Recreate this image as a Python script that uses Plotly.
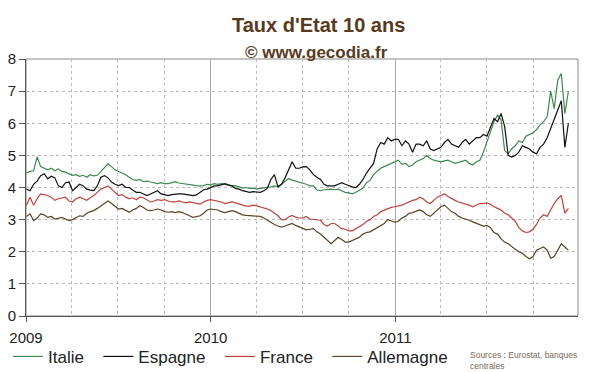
import pandas as pd
import plotly.graph_objects as go

start_date = "2009-01-02"

italie = [4.45, 4.5, 4.52, 4.95, 4.65, 4.6, 4.55, 4.6, 4.52, 4.58,
          4.5, 4.48, 4.42, 4.38, 4.4, 4.35, 4.38, 4.32, 4.4, 4.36,
          4.38, 4.5, 4.62, 4.74, 4.65, 4.55, 4.5, 4.45, 4.4, 4.32,
          4.25, 4.22, 4.25, 4.18, 4.2, 4.17, 4.14, 4.12, 4.15, 4.12,
          4.12, 4.15, 4.18, 4.14, 4.12, 4.12, 4.1, 4.08, 4.06, 4.05,
          4.06, 4.1, 4.08, 4.12, 4.1, 4.12, 4.1, 4.08, 4.05, 4.06,
          4.02, 3.98, 4.0, 3.97, 3.98, 3.95, 3.97, 3.98, 4.0, 4.02,
          4.05, 4.02, 4.1, 4.2, 4.28, 4.23, 4.2, 4.15, 4.12, 4.1,
          4.05, 4.05, 3.92, 3.9, 3.93, 3.95, 3.95, 3.93, 3.95, 3.9,
          3.85, 3.83, 3.8, 3.85, 3.92, 3.98, 4.15, 4.22, 4.4, 4.5,
          4.6, 4.65, 4.7, 4.75, 4.8, 4.85, 4.72, 4.75, 4.65, 4.7,
          4.8, 4.85, 4.9, 5.0, 4.9, 4.85, 4.82, 4.8, 4.83, 4.85,
          4.8, 4.75, 4.78, 4.82, 4.85, 4.75, 4.7, 4.8, 4.85, 5.1,
          5.4, 5.7, 6.05, 6.25, 6.1, 5.15, 5.05, 5.2, 5.3, 5.45,
          5.4, 5.6, 5.65, 5.7, 5.8, 5.95, 6.05, 6.2, 7.0, 6.45,
          7.35, 7.55, 6.3, 7.0]

espagne = [3.95, 3.9, 4.1, 4.2, 4.37, 4.43, 4.27, 4.35, 4.3, 4.05,
           4.0, 4.15, 4.17, 3.9, 4.0, 4.1, 4.05, 3.95, 3.92, 3.9,
           4.05, 4.32, 4.37, 4.3, 4.17, 4.1, 4.06, 4.1, 4.0, 4.0,
           3.92, 3.85, 3.85, 3.8, 3.75, 3.8, 3.85, 3.9, 3.8, 3.78,
           3.75, 3.78, 3.8, 3.8, 3.8, 3.78, 3.75, 3.75, 3.77, 3.85,
           3.93, 3.95, 4.0, 4.05, 4.05, 4.08, 4.12, 4.08, 4.05, 3.97,
           3.95, 3.9, 3.87, 3.85, 3.87, 3.87, 3.85, 3.9, 3.97, 4.25,
           4.4, 4.02, 4.1, 4.3, 4.55, 4.8, 4.6, 4.6, 4.64, 4.65,
           4.55, 4.4, 4.32, 4.25, 4.1, 4.05, 4.05, 4.05, 4.1, 4.15,
           4.1, 4.05, 4.02, 4.0, 4.1, 4.25, 4.45, 4.6, 4.75, 5.2,
           5.4, 5.35, 5.55, 5.45, 5.5, 5.5, 5.3, 5.45, 5.35, 5.1,
           5.35, 5.35, 5.3, 5.45, 5.2, 5.15, 5.2, 5.25, 5.4, 5.5,
           5.35, 5.3, 5.25, 5.4, 5.5, 5.35, 5.45, 5.55, 5.55, 5.65,
           5.6, 5.85, 6.15, 6.05, 6.3, 5.9, 5.0, 4.95, 5.0, 5.1,
           5.3, 5.25, 5.2, 5.1, 5.05, 5.25, 5.35, 5.55, 5.85, 6.15,
           6.45, 6.7, 5.25, 6.0]

france = [3.45, 3.7, 3.45, 3.65, 3.8, 3.78, 3.75, 3.7, 3.6, 3.65,
          3.68, 3.7, 3.58, 3.55, 3.65, 3.7, 3.65, 3.6, 3.68, 3.75,
          3.85, 3.95, 4.0, 4.05, 3.95, 3.85, 3.75, 3.78, 3.7, 3.65,
          3.68, 3.62, 3.7, 3.68, 3.62, 3.55, 3.58, 3.62, 3.6, 3.62,
          3.58, 3.55, 3.55, 3.58, 3.55, 3.52, 3.55, 3.52, 3.5, 3.48,
          3.55, 3.6, 3.62, 3.6, 3.58, 3.55, 3.5, 3.52, 3.55, 3.52,
          3.48, 3.45, 3.42, 3.42, 3.45, 3.43, 3.4, 3.35, 3.33, 3.28,
          3.2, 3.12, 3.0, 3.0, 3.08, 3.13, 3.08, 3.05, 3.05, 3.1,
          3.02, 3.0, 3.0, 2.98, 2.85, 2.8, 2.88, 2.88, 2.8, 2.72,
          2.7, 2.65, 2.65, 2.72, 2.78, 2.85, 2.95, 3.0, 3.1, 3.15,
          3.25, 3.3, 3.35, 3.38, 3.4, 3.42, 3.45, 3.5, 3.55, 3.6,
          3.62, 3.7, 3.65, 3.55, 3.5, 3.6, 3.7, 3.75, 3.8, 3.72,
          3.65, 3.6, 3.55, 3.52, 3.5, 3.45, 3.4, 3.45, 3.5, 3.5,
          3.52, 3.48, 3.4, 3.35, 3.3, 3.2, 3.15, 3.05, 2.95, 2.75,
          2.65, 2.6, 2.62, 2.7, 2.85, 3.05, 3.15, 3.1, 3.3, 3.5,
          3.65, 3.75, 3.2, 3.35]

allemagne = [3.1, 3.18, 2.97, 3.05, 3.18, 3.15, 3.07, 3.1, 3.02, 3.05,
             3.07, 3.02, 2.97, 3.0, 3.07, 3.12, 3.1, 3.2, 3.25, 3.28,
             3.35, 3.43, 3.5, 3.58, 3.5, 3.4, 3.33, 3.35, 3.28, 3.23,
             3.3, 3.35, 3.43, 3.38, 3.3, 3.28, 3.3, 3.33, 3.3, 3.25,
             3.23, 3.25, 3.22, 3.25, 3.22, 3.18, 3.12, 3.07, 3.1, 3.12,
             3.2, 3.3, 3.33, 3.32, 3.3, 3.25, 3.22, 3.25, 3.28, 3.25,
             3.2, 3.15, 3.13, 3.12, 3.13, 3.12, 3.1, 3.05, 2.98, 2.92,
             2.85, 2.8, 2.77, 2.8, 2.85, 2.88, 2.82, 2.77, 2.72, 2.68,
             2.7, 2.72, 2.62, 2.55, 2.45, 2.35, 2.25, 2.35, 2.45, 2.38,
             2.3, 2.3, 2.35, 2.38, 2.45, 2.55, 2.6, 2.62, 2.68, 2.75,
             2.82, 2.88, 3.0, 2.95, 2.92, 2.95, 3.05, 3.1, 3.2, 3.22,
             3.25, 3.3, 3.25, 3.15, 3.1, 3.2, 3.3, 3.4, 3.45, 3.35,
             3.25, 3.2, 3.1, 3.05, 3.02, 2.98, 2.93, 2.88, 2.85, 2.8,
             2.82, 2.75, 2.6, 2.55, 2.4, 2.3, 2.25, 2.15, 2.08, 2.0,
             1.95, 1.85, 1.78, 1.85, 2.05, 2.1, 2.15, 2.05, 1.8, 1.85,
             2.05, 2.25, 2.15, 2.05]

series_names = ["Italie", "Espagne", "France", "Allemagne"]
series_values = [italie, espagne, france, allemagne]
series_colors = ["#3c8a4c", "#111111", "#c0433b", "#5b4222"]
legend_pad = ["\u00a0\u00a0", "\u00a0\u00a0", "\u00a0\u00a0", ""]

title_text = "Taux d'Etat 10 ans"
subtitle_text = "© www.gecodia.fr"
source_text = "Sources : Eurostat, banques<br>centrales"
x_range = ["2009-01-01", "2011-12-28"]
y_ticks = [0, 1, 2, 3, 4, 5, 6, 7, 8]

fig = go.Figure()
for name, vals, col, pad in zip(series_names, series_values, series_colors, legend_pad):
    dates = pd.date_range(start_date, periods=len(vals), freq="7D")
    fig.add_trace(go.Scatter(x=dates, y=vals, mode="lines", name=name + pad,
                             line=dict(color=col, width=1.2)))

# the page body has an 8px margin, so the figure is sized to the visible area
fig.update_layout(
    width=592, height=364,
    margin=dict(l=18, r=22, t=51, b=56, autoexpand=False),
    paper_bgcolor="white", plot_bgcolor="white",
    font=dict(family="Liberation Sans, Arial, sans-serif", color="#222"),
    showlegend=True,
    legend=dict(orientation="h", xref="container", yref="container",
                x=-0.01, xanchor="left", y=0.091, yanchor="top",
                font=dict(size=17, color="#222"), itemwidth=30,
                bgcolor="rgba(0,0,0,0)"),
    annotations=[
        dict(text="<b>" + title_text + "</b>", xref="paper", yref="paper",
             x=0.53, y=1.0, yshift=34, showarrow=False, xanchor="center", yanchor="middle",
             font=dict(size=20, color="#5a3a1c")),
        dict(text="<b>" + subtitle_text + "</b>", xref="paper", yref="paper",
             x=0.527, y=1.0, yshift=7, showarrow=False, xanchor="center", yanchor="middle",
             font=dict(size=17, color="#5a3a1c")),
        dict(text=source_text, xref="paper", yref="paper", x=0.8, y=-0.125,
             xanchor="left", yanchor="top", showarrow=False, align="left",
             font=dict(size=8.5, color="#7a6a58")),
    ],
)

fig.update_xaxes(
    type="date", range=x_range, dtick="M12", tick0="2009-01-01",
    tickformat="%Y", ticks="outside", ticklen=5, tickcolor="#555",
    showline=True, linecolor="#555", linewidth=1, mirror=False,
    showgrid=True, gridcolor="#aaaaaa", gridwidth=1,
    tickfont=dict(size=15, color="#222"), ticklabelmode="instant",
    ticklabelstandoff=3, automargin=False,
    minor=dict(dtick="M3", tick0="2009-01-01", showgrid=True,
               gridcolor="#bbbbbb", griddash="dot", gridwidth=1),
    zeroline=False,
)
fig.update_yaxes(
    range=[0, 8], tickvals=y_ticks, ticks="outside", ticklen=6, tickcolor="#555",
    showline=True, linecolor="#555", linewidth=1, automargin=False,
    showgrid=True, gridcolor="#bbbbbb", griddash="dot", gridwidth=1,
    tickfont=dict(size=15, color="#222"), zeroline=False,
)
fig.update_layout(shapes=[dict(type="rect", xref="paper", yref="paper", x0=0, y0=0, x1=1, y1=1,
                               line=dict(color="#888", width=1), fillcolor="rgba(0,0,0,0)", layer="below")])

fig.write_html("out.html")
